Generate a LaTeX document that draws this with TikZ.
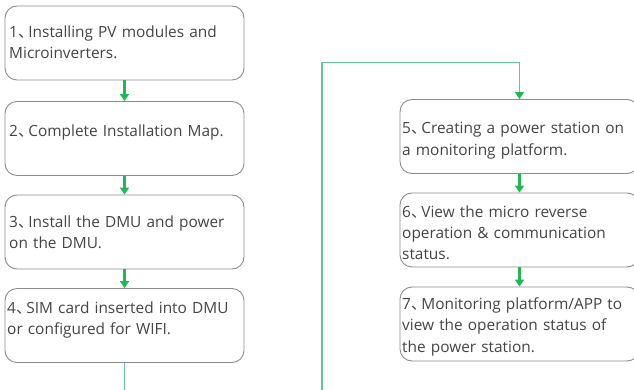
\documentclass[tikz,border=0pt]{standalone}
\usepackage{fontspec}
\setmainfont{Open Sans}
\newfontfamily\cjk{Noto Sans CJK SC}
\usetikzlibrary{arrows.meta}
\definecolor{flowgreen}{RGB}{29,185,84}
\definecolor{linkgreen}{RGB}{95,200,150}
\definecolor{boxgray}{RGB}{140,140,140}
\definecolor{textgray}{RGB}{68,68,68}
\newcommand{\dun}{{\cjk 、}\hspace{-5pt}}
\tikzset{
  stepbox/.style={draw=boxgray,line width=0.9pt,rounded corners=12pt,minimum width=239pt,minimum height=74pt,inner sep=0pt},
  steptext/.style={anchor=base west,inner sep=0pt,text width=260pt,align=left,text=textgray,font=\fontsize{15.4}{21.5}\selectfont},
  flow/.style={draw=flowgreen,line width=2.2pt,-{Triangle[width=9pt,length=7pt]}},
  link/.style={draw=linkgreen,line width=1.2pt,-{Triangle[width=9pt,length=7pt,color=flowgreen]}}
}
\begin{document}
\begin{tikzpicture}[x=1pt,y=-1pt]
\useasboundingbox (0,0) rectangle (634,390);
\clip (0,0) rectangle (634,390);
% left column
\node (s1) [stepbox] at (124.5,43) {};
\node (s2) [stepbox] at (124.5,138.5) {};
\node (s3) [stepbox] at (124.5,232) {};
\node (s4) [stepbox] at (124.5,325.5) {};
\node (t1) [steptext] at (9,37.5) {1\dun Installing PV modules and\\Microinverters.};
\node (t2) [steptext] at (9,137) {2\dun Complete Installation Map.};
\node (t3) [steptext] at (9,227) {3\dun Install the DMU and power\\on the DMU.};
\node (t4) [steptext] at (7,313) {4\dun SIM card inserted into DMU\\or configured for WIFI.};
% right column
\node (s5) [stepbox] at (519.5,136.5) {};
\node (s6) [stepbox] at (519.5,230) {};
\node (s7) [stepbox] at (519.5,324) {};
\node (t5) [steptext] at (402,134) {5\dun Creating a power station on\\a monitoring platform.};
\node (t6) [steptext] at (402,217) {6\dun View the micro reverse\\operation \& communication\\status.};
\node (t7) [steptext] at (402,309) {7\dun Monitoring platform/APP to\\view the operation status of\\the power station.};
% arrows
\draw [flow] (s1) -- (s2);
\draw [flow] (s2) -- (s3);
\draw [flow] (s3) -- (s4);
\draw [flow] (s5) -- (s6);
\draw [flow] (s6) -- (s7);
% link between columns
\coordinate (b1) at (124.5,395);
\coordinate (b2) at (322,395);
\coordinate (up) at (322,62.5);
\draw [link] (s4) -- (b1) -- (b2) -- (up) -| (s5);
\end{tikzpicture}
\end{document}
